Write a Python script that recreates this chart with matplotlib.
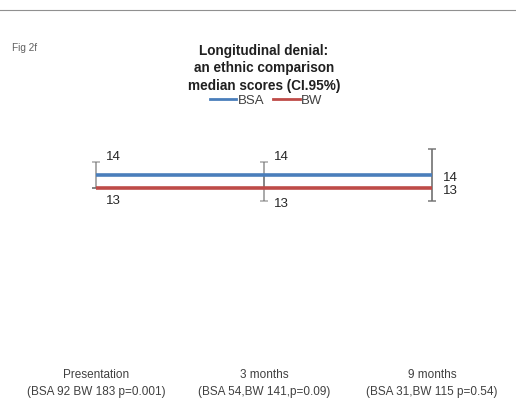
import matplotlib
matplotlib.use("Agg")
import matplotlib.pyplot as plt
from matplotlib.lines import Line2D

plt.rcParams["font.family"] = ["Liberation Sans", "DejaVu Sans"]

# --- Data ---
timepoints = ["Presentation\n(BSA 92 BW 183 p=0.001)",
              "3 months\n(BSA 54,BW 141,p=0.09)",
              "9 months\n(BSA 31,BW 115 p=0.54)"]
bsa_median = [14, 14, 14]
bw_median = [13, 13, 13]
bsa_ci_low = [13, 13, 12]
bsa_ci_high = [15, 15, 16]
bw_ci_low = [13, 12, 12]
bw_ci_high = [13, 14, 16]

BLUE = "#4a7ebb"
RED = "#be4b48"
TEXT = "#404040"

fig = plt.figure(figsize=(5.16, 4.04), dpi=100)
ax = fig.add_axes([0, 47 / 404, 1, 234 / 404])

x = list(range(len(timepoints)))

# CI bars drawn per series, translucent so overlaps read darker
for med, lo, hi in [(bsa_median, bsa_ci_low, bsa_ci_high),
                    (bw_median, bw_ci_low, bw_ci_high)]:
    yerr = [[m - l for m, l in zip(med, lo)], [h - m for m, h in zip(med, hi)]]
    ax.errorbar(x, med, yerr=yerr, fmt="none", ecolor="#707070", alpha=0.6,
                elinewidth=1.4, capsize=3, capthick=1.1, zorder=2)

ax.plot(x, bsa_median, color=BLUE, lw=2.6, solid_capstyle="butt", zorder=3)
ax.plot(x, bw_median, color=RED, lw=2.6, solid_capstyle="butt", zorder=3)

# data labels
bsa_offsets = [(7, 13), (7, 13), (8, -2.5)]
bw_offsets = [(7, -9), (7, -11.5), (8, -2.5)]
for i in x:
    ax.annotate(str(bsa_median[i]), (i, bsa_median[i]), xytext=bsa_offsets[i],
                textcoords="offset points", ha="left", va="center",
                fontsize=9.5, color="#262626")
    ax.annotate(str(bw_median[i]), (i, bw_median[i]), xytext=bw_offsets[i],
                textcoords="offset points", ha="left", va="center",
                fontsize=9.5, color="#262626")

ax.set_xlim(-96 / 168, 420 / 168)
ax.set_ylim(0, 18)
for s in ax.spines.values():
    s.set_visible(False)
ax.set_yticks([])
ax.set_xticks(x)
ax.set_xticklabels(timepoints, fontsize=8.5, color=TEXT, linespacing=1.45)
ax.tick_params(axis="x", length=0, pad=9)

# title, legend, figure tag
fig.text(264 / 516, 1 - 44 / 404, "Longitudinal denial:\nan ethnic comparison\nmedian scores (CI.95%)",
         ha="center", va="top", fontsize=9.8, fontweight="bold", color="#202020",
         linespacing=1.3)
fig.text(12 / 516, 1 - 48 / 404, "Fig 2f", ha="left", va="center", fontsize=7.2,
         color="#606060")
handles = [Line2D([], [], color=BLUE, lw=2), Line2D([], [], color=RED, lw=2)]
fig.legend(handles, ["BSA", "BW"], loc="center", bbox_to_anchor=(266 / 516, 1 - 101 / 404),
           ncol=2, frameon=False, fontsize=9.5, handlelength=2.0, handletextpad=0.1,
           columnspacing=0.7, labelcolor=TEXT)

# thin rule across the top of the page
fig.add_artist(Line2D([0, 1], [1 - 10 / 404, 1 - 10 / 404], color="#909090", lw=0.8))

fig.savefig("out.png", dpi=100)
